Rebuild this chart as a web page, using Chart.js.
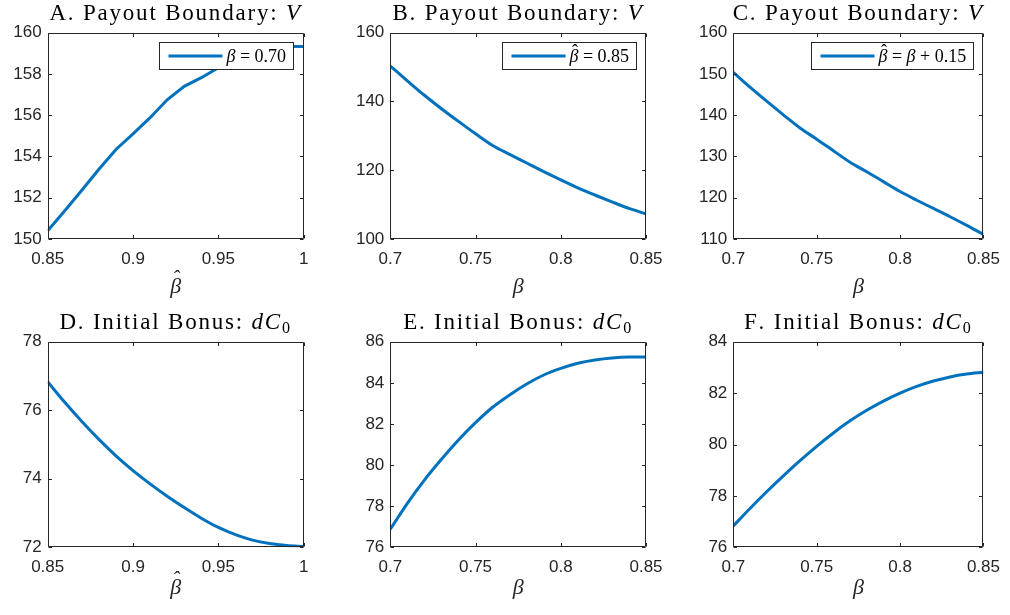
<!DOCTYPE html>
<html><head><meta charset="utf-8">
<script src="https://cdn.jsdelivr.net/npm/chart.js@4.4.1/dist/chart.umd.min.js"></script>
<style>
html,body{margin:0;padding:0;background:#fff;}
#wrap{position:relative;width:1010px;height:615px;overflow:hidden;background:#fff;}
canvas{position:absolute;}
</style></head><body><div id="wrap">
<canvas id="cA" width="340" height="300" style="left:0px;top:0px"></canvas>
<canvas id="cB" width="340" height="300" style="left:340px;top:0px"></canvas>
<canvas id="cC" width="330" height="300" style="left:680px;top:0px"></canvas>
<canvas id="cD" width="340" height="315" style="left:0px;top:300px"></canvas>
<canvas id="cE" width="340" height="315" style="left:340px;top:300px"></canvas>
<canvas id="cF" width="330" height="315" style="left:680px;top:300px"></canvas>
</div>
<script>
// ---------- data ----------
const betaHatGrid = [0.85,0.86,0.87,0.88,0.89,0.90,0.91,0.92,0.93,0.94,0.95,0.96,0.97,0.98,0.99,1.00];
const betaGrid    = [0.70,0.71,0.72,0.73,0.74,0.75,0.76,0.77,0.78,0.79,0.80,0.81,0.82,0.83,0.84,0.85];

const payoutA = [150.40,151.37,152.36,153.38,154.34,155.10,155.88,156.75,157.40,157.82,158.30,158.75,159.10,159.33,159.33,159.33];
const payoutB = [150.3,146.0,141.8,137.9,134.2,130.6,127.2,124.6,122.1,119.6,117.2,114.9,112.8,110.8,108.9,107.3];
const payoutC = [150.4,146.8,143.4,140.1,136.9,134.2,131.4,128.6,126.3,123.9,121.5,119.4,117.4,115.4,113.3,111.1];
const bonusD  = [76.83,76.23,75.67,75.15,74.67,74.24,73.85,73.49,73.16,72.85,72.58,72.37,72.21,72.11,72.05,72.02];
const bonusE  = [76.88,78.14,79.27,80.28,81.22,82.06,82.81,83.41,83.94,84.38,84.70,84.95,85.11,85.21,85.25,85.25];
const bonusF  = [76.83,77.51,78.16,78.78,79.37,79.93,80.45,80.92,81.33,81.69,82.00,82.26,82.47,82.63,82.74,82.81];

const xTicksBetaHat = [0.85,0.9,0.95,1];
const xTicksBeta    = [0.7,0.75,0.8,0.85];
const yTicksA = [150,152,154,156,158,160];
const yTicksB = [100,120,140,160];
const yTicksC = [110,120,130,140,150,160];
const yTicksD = [72,74,76,78];
const yTicksE = [76,78,80,82,84,86];
const yTicksF = [76,78,80,82,84];

const titleMainTop = ['A. Payout Boundary: ','B. Payout Boundary: ','C. Payout Boundary: '];
const titleMainBot = ['D. Initial Bonus: ','E. Initial Bonus: ','F. Initial Bonus: '];
const titleMathTop = 'V';
const titleMathBot = 'dC_0';
const legendLabels = ['\u03B2 = 0.70','\u03B2\u0302 = 0.85','\u03B2\u0302 = \u03B2 + 0.15'];
const xTitleBetaHat = '\u03B2\u0302';
const xTitleBeta = '\u03B2';

// ---------- style ----------
const SERIF = '"Liberation Serif","Times New Roman",serif';
const SANS = '"Liberation Sans",Arial,Helvetica,sans-serif';
const INK = '#262626';
const BLUE = '#0072BD';
const HAT = '\u02C6';
const TITLE_SPACING = 1.8;

function fmt(v){ return String(+(+v).toFixed(2)); }

function titleLines(str){
  if (str.indexOf('\u0302') >= 0) return [HAT, str.replace('\u0302','')];
  return str;
}

function segFont(s, size){
  const sz = s.sub ? size*0.7 : size;
  return (s.it ? 'italic ' : '') + sz + 'px ' + SERIF;
}
// measure and draw each segment with explicit per-character spacing
function segWidth(ctx, s, size, sp){
  ctx.font = segFont(s, size);
  let w = 0;
  for (const ch of s.t) w += ctx.measureText(ch).width + sp;
  return w;
}
function richWidth(ctx, segs, size, sp){
  let w = 0;
  segs.forEach(s => { w += segWidth(ctx, s, size, sp || 0); });
  return w;
}
function drawRich(ctx, segs, x, y, size, sp){
  sp = sp || 0;
  segs.forEach(s => {
    ctx.font = segFont(s, size);
    const yy = y + (s.sub ? size*0.15 : 0);
    if (sp){
      for (const ch of s.t){ ctx.fillText(ch, x, yy); x += ctx.measureText(ch).width + sp; }
    } else {
      const w = ctx.measureText(s.t).width;
      ctx.fillText(s.t, x, yy);
      if (s.hat){
        ctx.save();
        ctx.font = size + 'px ' + SERIF;
        ctx.textAlign = 'center';
        ctx.fillText(HAT, x + w/2 + 1, y - size*0.27);
        ctx.restore();
      }
      x += w;
    }
  });
}
function mathSegs(str){
  const out = [];
  for (let i=0;i<str.length;i++){
    if (str[i]==='_'){ out.push({t:str[i+1], sub:true}); i++; }
    else out.push({t:str[i], it:/[A-Za-z\u03B1-\u03C9]/.test(str[i])});
  }
  return out;
}
function labelSegs(str){
  const out = [];
  const chars = Array.from(str);
  let cur = null;
  for (let i=0;i<chars.length;i++){
    const ch = chars[i];
    if (ch === '\u0302') continue;
    const it = /[\u03B1-\u03C9]/.test(ch);
    const hat = chars[i+1] === '\u0302';
    if (it){ cur = null; out.push({t:ch, it:true, hat}); }
    else if (cur) cur.t += ch;
    else { cur = {t:ch, it:false}; out.push(cur); }
  }
  return out;
}

const matlabPlugin = {
  id: 'matlabLook',
  afterDatasetsDraw(chart, args, opts){
    const {ctx, chartArea:a, scales} = chart;
    ctx.save();
    ctx.strokeStyle = INK; ctx.lineWidth = 1;
    const L = Math.round(a.left)+0.5, T = Math.round(a.top)+0.5, R = Math.round(a.right)-0.5, B = Math.round(a.bottom)-0.5;
    ctx.beginPath();
    ctx.rect(L, T, R-L, B-T);
    const tl = 3.5;
    scales.x.ticks.forEach(t => {
      const px = Math.round(scales.x.getPixelForValue(t.value)) + 0.5;
      ctx.moveTo(px, B); ctx.lineTo(px, B - tl);
      ctx.moveTo(px, T); ctx.lineTo(px, T + tl);
    });
    scales.y.ticks.forEach(t => {
      const py = Math.round(scales.y.getPixelForValue(t.value)) + 0.5;
      ctx.moveTo(L, py); ctx.lineTo(L + tl, py);
      ctx.moveTo(R, py); ctx.lineTo(R - tl, py);
    });
    ctx.stroke();

    if (opts.legend){
      const ds = chart.data.datasets[0];
      const size = 18;
      const segs = labelSegs(ds.label);
      const tw = richWidth(ctx, segs, size, 0);
      const h = 27, lineLen = 54;
      const w = Math.round(9 + lineLen + 4 + tw + 7);
      const bx = Math.round(a.right - 10.5 - w) + 0.5, by = Math.round(a.top + 9.5) + 0.5;
      ctx.fillStyle = '#fff';
      ctx.fillRect(bx, by, w, h);
      ctx.strokeStyle = INK; ctx.lineWidth = 1;
      ctx.strokeRect(bx, by, w, h);
      const cy = by + h/2;
      ctx.strokeStyle = ds.borderColor; ctx.lineWidth = 3;
      ctx.beginPath(); ctx.moveTo(bx + 9, cy); ctx.lineTo(bx + 9 + lineLen, cy); ctx.stroke();
      ctx.fillStyle = '#000'; ctx.textBaseline = 'alphabetic'; ctx.textAlign = 'left';
      drawRich(ctx, segs, bx + 9 + lineLen + 4, cy + 6, size, 0);
    }
    ctx.restore();
  },
  afterDraw(chart, args, opts){
    const {ctx, chartArea:a} = chart;
    ctx.save();
    const size = 23;
    const segs = [{t: opts.main}].concat(mathSegs(opts.math));
    const w = richWidth(ctx, segs, size, TITLE_SPACING) - TITLE_SPACING;
    ctx.fillStyle = '#000'; ctx.textBaseline = 'alphabetic'; ctx.textAlign = 'left';
    drawRich(ctx, segs, (a.left + a.right)/2 - w/2 - 1, a.top - 12.5, size, TITLE_SPACING);
    ctx.restore();
  }
};

function makePanel(id, xs, ys, label, xTicks, yTicks, xTitle, main, math, geo, showLegend, tension){
  const pts = xs.map((x,i) => ({x, y: ys[i]}));
  new Chart(document.getElementById(id), {
    type: 'line',
    data: { datasets: [{ label, data: pts, borderColor: BLUE, backgroundColor: BLUE, borderWidth: 3,
      pointRadius: 0, tension: tension, cubicInterpolationMode: tension ? 'monotone' : 'default', fill: false }] },
    options: {
      responsive: false, animation: false, devicePixelRatio: 1,
      layout: { padding: { left: 0, top: geo.top, right: geo.right, bottom: 0 } },
      plugins: {
        legend: { display: false }, title: { display: false }, tooltip: { enabled: false },
        matlabLook: { legend: showLegend, main, math }
      },
      scales: {
        x: {
          type: 'linear', min: xTicks[0], max: xTicks[xTicks.length-1],
          afterBuildTicks: s => { s.ticks = xTicks.map(v => ({value: v})); },
          afterFit: s => { s.height = geo.xh; },
          grid: { display: false, drawTicks: false }, border: { display: false },
          ticks: { color: INK, padding: 10, maxRotation: 0, autoSkip: false, font: { family: SANS, size: 17 }, callback: v => fmt(v) },
          title: { display: true, text: titleLines(xTitle), color: INK, font: { family: SERIF, size: 22, style: 'italic', lineHeight: 0.36 }, padding: { top: 0, bottom: geo.tpb } }
        },
        y: {
          type: 'linear', min: yTicks[0], max: yTicks[yTicks.length-1],
          afterBuildTicks: s => { s.ticks = yTicks.map(v => ({value: v})); },
          afterFit: s => { s.width = geo.yw; },
          grid: { display: false, drawTicks: false }, border: { display: false },
          ticks: { color: INK, padding: 6, autoSkip: false, font: { family: SANS, size: 17 }, callback: v => fmt(v) }
        }
      }
    },
    plugins: [matlabPlugin]
  });
}

const geoA = {top: 32.7, right: 36.3, yw: 47.7, xh: 61, tpb: 9};
const geoB = {top: 32.7, right: 34, yw: 50.3, xh: 61, tpb: 9};
const geoC = {top: 32.7, right: 20.7, yw: 53.3, xh: 61, tpb: 9};
const geoD = {top: 41.7, right: 36.3, yw: 47.7, xh: 67.7, tpb: 23};
const geoE = {top: 41.7, right: 34, yw: 50.3, xh: 67.7, tpb: 23};
const geoF = {top: 41.7, right: 20.7, yw: 53.3, xh: 67.7, tpb: 23};

makePanel('cA', betaHatGrid, payoutA, legendLabels[0], xTicksBetaHat, yTicksA, xTitleBetaHat, titleMainTop[0], titleMathTop, geoA, true, 0);
makePanel('cB', betaGrid, payoutB, legendLabels[1], xTicksBeta, yTicksB, xTitleBeta, titleMainTop[1], titleMathTop, geoB, true, 0.3);
makePanel('cC', betaGrid, payoutC, legendLabels[2], xTicksBeta, yTicksC, xTitleBeta, titleMainTop[2], titleMathTop, geoC, true, 0.3);
makePanel('cD', betaHatGrid, bonusD, 'dC0', xTicksBetaHat, yTicksD, xTitleBetaHat, titleMainBot[0], titleMathBot, geoD, false, 0.3);
makePanel('cE', betaGrid, bonusE, 'dC0', xTicksBeta, yTicksE, xTitleBeta, titleMainBot[1], titleMathBot, geoE, false, 0.3);
makePanel('cF', betaGrid, bonusF, 'dC0', xTicksBeta, yTicksF, xTitleBeta, titleMainBot[2], titleMathBot, geoF, false, 0.3);
</script>
</body></html>
